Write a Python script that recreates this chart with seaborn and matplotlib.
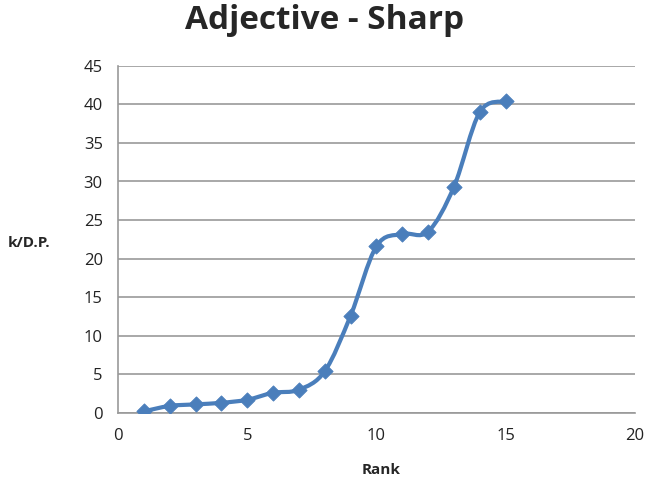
import matplotlib
matplotlib.use("Agg")
import matplotlib.pyplot as plt
import seaborn as sb
import numpy as np
from matplotlib.path import Path
from matplotlib.patches import PathPatch

rank = [1, 2, 3, 4, 5, 6, 7, 8, 9, 10, 11, 12, 13, 14, 15]
k_dp = [0.2, 0.9, 1.1, 1.3, 1.7, 2.6, 3.0, 5.4, 12.6, 21.6, 23.2, 23.5, 29.3, 39.0, 40.4]

x_ticks = [0, 5, 10, 15, 20]
y_ticks = [0, 5, 10, 15, 20, 25, 30, 35, 40, 45]

colour = "#4a7ebb"
grid_col = "#999999"

sb.set_style("white")
plt.rcParams["font.family"] = ["Open Sans", "DejaVu Sans"]

fig = plt.figure(figsize=(6.49, 4.84), dpi=100)
ax = fig.add_axes([0.182, 0.147, 0.796, 0.717])

# smoothed line (Excel style), control points from neighbouring data
x = np.array(rank, dtype=float)
y = np.array(k_dp, dtype=float)
verts = [(x[0], y[0])]
codes = [Path.MOVETO]
for i in range(len(x) - 1):
    p0 = i - 1 if i > 0 else i
    p3 = i + 2 if i + 2 < len(x) else i + 1
    c1 = (x[i] + (x[i + 1] - x[p0]) / 6, y[i] + (y[i + 1] - y[p0]) / 6)
    c2 = (x[i + 1] - (x[p3] - x[i]) / 6, y[i + 1] - (y[p3] - y[i]) / 6)
    verts += [c1, c2, (x[i + 1], y[i + 1])]
    codes += [Path.CURVE4] * 3
ax.add_patch(PathPatch(Path(verts, codes), facecolor="none",
                       edgecolor=colour, lw=3.0, zorder=3))

sb.scatterplot(x=rank, y=k_dp, marker="D", s=60, color=colour,
               edgecolor=colour, ax=ax, zorder=4)

ax.set_xlim(0, 20)
ax.set_ylim(0, 45)
ax.set_xticks(x_ticks)
ax.set_yticks(y_ticks)
ax.yaxis.grid(True, color=grid_col, lw=1.2)
ax.xaxis.grid(False)
for s in ["top", "right"]:
    ax.spines[s].set_visible(False)
for s in ["left", "bottom"]:
    ax.spines[s].set_color(grid_col)
    ax.spines[s].set_linewidth(1.2)
ax.tick_params(axis="both", direction="out", length=5, width=1.2,
               color=grid_col, labelsize=12, labelcolor="#222222")
ax.tick_params(axis="x", pad=6)
ax.tick_params(axis="y", pad=6)

fig.text(0.5, 0.957, "Adjective - Sharp", ha="center", va="center",
         fontsize=24, fontweight="bold")
fig.text(0.012, 0.497, "k/D.P.", ha="left", va="center",
         fontsize=11, fontweight="bold")
fig.text(0.587, 0.028, "Rank", ha="center", va="center",
         fontsize=11, fontweight="bold")

fig.savefig("out.png", dpi=100)
